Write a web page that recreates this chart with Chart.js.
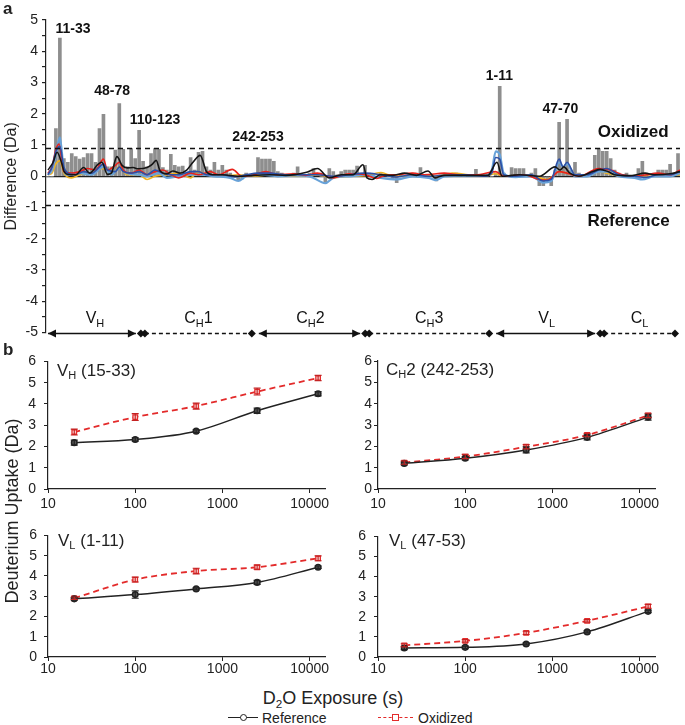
<!DOCTYPE html>
<html>
<head>
<meta charset="utf-8">
<script src="https://cdn.jsdelivr.net/npm/chart.js@4/dist/chart.umd.min.js"></script>
<style>
body { margin: 0; background: #fff; width: 685px; height: 725px; position: relative; overflow: hidden;
       font-family: "Liberation Sans", Arial, sans-serif; color: #222; }
canvas { position: absolute; }
.t { position: absolute; white-space: nowrap; line-height: 1; }
.t sub { font-size: 0.65em; vertical-align: -0.3em; line-height: 0; }
.lg { position: absolute; }
</style>
</head>
<body>
<canvas id="diffChart" style="left:0;top:0" width="685" height="345"></canvas>
<canvas id="vh15Chart" style="left:0;top:345px" width="340" height="175"></canvas>
<canvas id="ch2Chart" style="left:340px;top:345px" width="345" height="175"></canvas>
<canvas id="vl1Chart" style="left:0;top:520px" width="340" height="165"></canvas>
<canvas id="vl47Chart" style="left:340px;top:520px" width="345" height="165"></canvas>

<div class="t" style="left:3px;top:0;font-weight:bold;font-size:17px">a</div>
<div class="t" style="left:3px;top:341px;font-weight:bold;font-size:17px">b</div>
<div class="t" style="left:57px;top:362px;font-size:17px">V<sub>H</sub> (15-33)</div>
<div class="t" style="left:386px;top:361px;font-size:17px">C<sub>H</sub>2 (242-253)</div>
<div class="t" style="left:58px;top:532px;font-size:17px">V<sub>L</sub> (1-11)</div>
<div class="t" style="left:389px;top:532px;font-size:17px">V<sub>L</sub> (47-53)</div>
<div class="t" style="left:333px;top:689px;font-size:18px;transform:translateX(-50%)">D<sub>2</sub>O Exposure (s)</div>
<div class="t" style="left:12px;top:511px;font-size:18px;transform:translate(-50%,-50%) rotate(-90deg)">Deuterium Uptake (Da)</div>

<div class="lg" style="left:228px;top:717px;width:30px;border-top:1.5px solid #222"></div>
<div class="lg" style="left:240px;top:714px;width:5px;height:5px;border:1px solid #222;border-radius:50%;background:#fff"></div>
<div class="t" style="left:262px;top:711px;font-size:14px">Reference</div>
<div class="lg" style="left:378px;top:717px;width:35px;border-top:1.5px dashed #e32b2b"></div>
<div class="lg" style="left:392px;top:714px;width:5px;height:5px;border:1.2px solid #e32b2b;background:#fff"></div>
<div class="t" style="left:418px;top:711px;font-size:14px">Oxidized</div>

<script>
// ---- panel a: difference plot (one slot per peptide) ----
const barValues = [
  0, 0, 1.53, 4.42, 0.57, 0.45, 0.73, 0.63, 0.55, 0.6,
  0.73, 0.73, 0.45, 1.53, 1.98, 0.3, 0.3, 0.84, 2.33, 0.86,
  0.3, 0.89, 0.57, 1.47, 0.48, 0.3, 0.73, 0.89, 0.86, 0.28,
  0.2, 0.7, 0.35, 0.3, 0.33, 0.1, 0.6, 0.2, 0.77, 0.8,
  0.3, 0.2, 0.45, 0.2, 0.35, 0.2, 0.1, 0, -0.12, -0.08,
  0.1, 0.05, 0, 0.6, 0.55, 0.55, 0.55, 0.48, 0.15, 0.1,
  0.05, 0.05, 0.1, 0.3, 0.05, 0, 0.1, 0.25, 0.05, 0,
  -0.2, 0.25, 0.15, 0.05, 0.15, 0.2, 0.2, 0.2, 0.33, 0.1,
  0.35, 0.1, 0.05, 0, 0.1, 0.05, 0, -0.1, -0.2, 0.05,
  0, 0.05, 0.1, 0.1, 0.28, 0.05, 0, 0.05, -0.15, 0.05,
  0, 0.05, 0.05, 0.1, 0.05, 0, 0.05, 0.05, 0.22, 0.05,
  0, 0.05, 0, 0.1, 2.88, 0.1, 0, 0.28, 0.25, 0.25,
  0.25, 0.05, 0.1, 0.25, -0.3, -0.3, -0.1, -0.3, 0.2, 1.73,
  0.3, 1.82, 0.2, 0.45, 0.1, 0.05, 0, 0.1, 0.67, 0.89,
  0.8, 0.8, 0.57, 0.2, 0.1, 0.05, 0.1, 0, 0.05, 0.25,
  0.48, 0.05, 0, 0.1, 0.2, 0.2, 0.2, 0.38, 0.1, 0.73
];

const blackLine = [[0,0.2],[1.3,0.45],[2.3,0.77],[3.5,0.4],[4,0.17],[5,0.06],[7,0.05],[9,0.28],[10.5,0.1],[12.6,0.38],
  [13.6,0.45],[15,0.06],[16,0.1],[17.4,0.63],[18.7,0.35],[20,0.27],[21.5,0.28],[22.7,0.24],[25,0.28],[26.3,0.38],
  [27.3,0.51],[28.3,0.17],[30,0.08],[31.5,0.17],[33.3,0.1],[35,0.2],[36.6,0.45],[38.4,0.67],[40,0.15],[41.6,0.05],
  [44,0.05],[48,0],[52,0.03],[56,0.05],[60,0.03],[65,0.12],[68,0.25],[71,-0.05],[74,0.05],[77,0.05],
  [79.5,0.37],[80.5,-0.05],[81.8,-0.1],[83.8,0.05],[87,0.03],[90,0.1],[93,0.03],[95.9,0.17],[97.7,-0.05],[100,0.03],
  [104,0.03],[108,0.03],[111,0.03],[113.3,0.45],[114.6,0],[117,0.03],[119,0.05],[124,0],[128,0.3],[129.2,0.2],
  [130.2,0.3],[131.7,0.1],[134,0],[137.5,0.15],[139.3,0.22],[141.3,0.15],[143,0.05],[146.9,0.02],[150.7,0.1],[153,0.05],
  [157,0.08],[159.5,0.15]];
const redLine = [[0,0.1],[1,0.3],[2,0.86],[2.8,1.03],[4,0.15],[6,0.1],[8,0.15],[10,0.25],[12,0.2],[14,0.55],
  [15,0.2],[17,0.35],[18,0.45],[19,0.2],[21,0.1],[23,0.2],[25,0.05],[27,0.15],[29,0.2],[31,0.05],
  [33,-0.05],[36,0.1],[38,0.05],[41,0.15],[43,0.05],[46.5,0.22],[49,0],[52,0.05],[55,0.15],[58,0.05],
  [62,0.08],[65,0.03],[68,0.1],[72,-0.05],[76,0.08],[80,0.05],[83,-0.07],[85,0.03],[88,0.05],[92,0.1],
  [95,0.05],[100,0.1],[104,0.05],[108,0.05],[113,0.15],[115,0],[120,0.05],[124,-0.1],[126,-0.12],[129,0.15],
  [131,0.1],[134,0],[139,0.25],[142,0.2],[145,0.05],[148,0],[151,0.05],[154,0.1],[157,0.05],[159.5,0.2]];
const darkBlueLine = [[0,0.05],[1,0.3],[2,0.8],[3,0.95],[4,0.3],[5,0.1],[7,0.05],[9,0.15],[11,0.1],[13,0.3],
  [14,0.4],[15,0.2],[17,0.15],[18,0.3],[19,0.15],[21,0.1],[23,0.15],[25,0.05],[27,0.2],[29,0.1],
  [31,0.05],[33,0.05],[36,0.15],[38,0.15],[40,0.05],[44,0.05],[47,-0.02],[50,0.05],[53,0.1],[56,0.1],
  [60,0.05],[64,0.05],[68,0.05],[72,0],[76,0.05],[80,0.1],[84,0.05],[88,-0.02],[92,0.05],[96,0],
  [100,0.03],[105,0.05],[110,0],[112,0.1],[113,0.6],[114,0.55],[115,0.05],[118,0],[122,0.05],[125,-0.15],
  [127,-0.1],[129,0.55],[130,0.3],[131,0.45],[133,0.05],[136,0.05],[139,0.2],[141,0.25],[144,0.05],[148,0],
  [151,-0.03],[154,0.05],[157,0.05],[159.5,0.15]];
const lightBlueLine = [[0,0.05],[1,0.2],[2,0.7],[3,1.25],[4,0.2],[5,0.05],[8,0.1],[11,0.05],[14,0.3],[16,0.05],
  [18,0.25],[20,0.1],[23,0.05],[25,0],[28,0.1],[30,-0.05],[33,0],[36,0.05],[39,0.05],[42,0],
  [46,-0.05],[48,-0.15],[50,0],[54,0.05],[58,0],[62,0.03],[66,0],[70,-0.22],[72,-0.05],[76,0],
  [80,0.05],[84,-0.05],[88,-0.1],[92,0],[96,-0.05],[98,-0.12],[100,0],[106,0.02],[110,0.02],[112,0.2],
  [113,0.8],[114,0.7],[115,0.1],[118,-0.03],[122,0],[125,-0.2],[127,-0.15],[129,0.45],[130,0.3],[131,0.4],
  [133,0],[136,0],[139,0.15],[141,0.15],[144,0],[148,-0.05],[150,-0.1],[153,0],[157,0],[159.5,0.1]];
const yellowLine = [[0,0.05],[1,0.1],[2,0.4],[3,0.5],[4,0.1],[6,-0.05],[8,0.05],[11,0.1],[14,0.25],[16,0.05],
  [18,0.3],[20,0.05],[23,0.05],[25,-0.1],[27,0],[30,0.05],[33,0.1],[36,-0.05],[38,0.15],[40,0.05],
  [44,0],[48,0.05],[52,0],[56,0.05],[60,0],[64,0],[68,0.05],[72,-0.05],[76,0],[80,0.02],
  [84,0.12],[86,0.05],[90,0],[94,0.05],[98,0],[102,0.1],[106,0.05],[110,0],[113,0.08],[115,0],
  [120,0.02],[124,-0.05],[126,-0.1],[129,0.15],[131,0.1],[133,0.05],[136,0],[139,0.15],[141,0.1],[145,0],
  [150,0],[155,0.02],[159.5,0.05]];

const significanceLimit = 0.92;
const peakLabels = ['11-33', '48-78', '110-123', '242-253', '1-11', '47-70'];
const domainEdges = [0, 23.7, 52.2, 80.3, 112.1, 139.6, 159];
const domainNames = [['V', 'H', ''], ['C', 'H', '1'], ['C', 'H', '2'], ['C', 'H', '3'], ['V', 'L', ''], ['C', 'L', '']];
const domainSolid = [true, false, true, false, true, false];

// ---- panel b: uptake curves ----
const exposureTimes = [20, 100, 500, 2500, 12500];
const xTickValues = [10, 100, 1000, 10000];
const vh15Ref = [2.18, 2.33, 2.72, 3.68, 4.48];
const vh15RefErr = [0.12, 0.08, 0.06, 0.12, 0.1];
const vh15Ox = [2.68, 3.38, 3.9, 4.58, 5.22];
const vh15OxErr = [0.14, 0.16, 0.14, 0.16, 0.12];
const ch2Ref = [1.2, 1.44, 1.83, 2.42, 3.37];
const ch2RefErr = [0.07, 0.08, 0.14, 0.12, 0.14];
const ch2Ox = [1.24, 1.52, 1.98, 2.53, 3.45];
const ch2OxErr = [0.08, 0.1, 0.1, 0.08, 0.1];
const vl1Ref = [2.87, 3.08, 3.36, 3.68, 4.43];
const vl1RefErr = [0.06, 0.18, 0.05, 0.1, 0.06];
const vl1Ox = [2.9, 3.82, 4.24, 4.43, 4.87];
const vl1OxErr = [0.06, 0.12, 0.14, 0.1, 0.12];
const vl47Ref = [0.45, 0.48, 0.65, 1.25, 2.27];
const vl47RefErr = [0.08, 0.06, 0.05, 0.05, 0.06];
const vl47Ox = [0.58, 0.8, 1.2, 1.8, 2.52];
const vl47OxErr = [0.08, 0.06, 0.08, 0.06, 0.1];

Chart.defaults.font.family = '"Liberation Sans", Arial, sans-serif';
Chart.defaults.color = '#222';
Chart.defaults.animation = false;

var toPts = function (pairs) { return pairs.map(function (p) { return { x: p[0], y: p[1] }; }); };

// where the text labels of panel a sit, in data units
var peakLabelAt = [[6.3, 4.7], [16.2, 2.72], [27, 1.79], [53, 1.25], [113.9, 3.2], [129.3, 2.14]];

var diffDecor = {
    id: 'diffDecor',
    afterDraw: function (chart) {
        var ctx = chart.ctx, xs = chart.scales.x, ys = chart.scales.y, area = chart.chartArea;
        ctx.save();
        // dashed threshold lines
        ctx.strokeStyle = '#111';
        ctx.lineWidth = 1.3;
        ctx.setLineDash([5, 4]);
        [significanceLimit, -significanceLimit].forEach(function (v) {
            var y = Math.round(ys.getPixelForValue(v)) + 0.5;
            ctx.beginPath();
            ctx.moveTo(area.left, y);
            ctx.lineTo(area.right, y);
            ctx.stroke();
        });
        ctx.setLineDash([]);

        // peptide labels
        ctx.fillStyle = '#111';
        ctx.textAlign = 'center';
        ctx.textBaseline = 'middle';
        ctx.font = 'bold 14px "Liberation Sans", Arial, sans-serif';
        peakLabels.forEach(function (txt, i) {
            ctx.fillText(txt, xs.getPixelForValue(peakLabelAt[i][0]), ys.getPixelForValue(peakLabelAt[i][1]));
        });
        ctx.font = 'bold 17px "Liberation Sans", Arial, sans-serif';
        ctx.fillText('Oxidized', xs.getPixelForValue(147.7), ys.getPixelForValue(1.4));
        ctx.fillText('Reference', xs.getPixelForValue(146.5), ys.getPixelForValue(-1.44));

        // domain bar along the bottom
        var yb = Math.round(ys.getPixelForValue(-5)) + 0.5;
        var yl = ys.getPixelForValue(-4.55);
        ctx.strokeStyle = '#111';
        ctx.fillStyle = '#111';
        ctx.lineWidth = 1.3;
        var diamond = function (x) {
            ctx.beginPath();
            ctx.moveTo(x - 4, yb); ctx.lineTo(x, yb - 4); ctx.lineTo(x + 4, yb); ctx.lineTo(x, yb + 4);
            ctx.closePath(); ctx.fill();
        };
        var arrow = function (x, dir) {
            ctx.beginPath();
            ctx.moveTo(x, yb); ctx.lineTo(x - dir * 8, yb - 4); ctx.lineTo(x - dir * 8, yb + 4);
            ctx.closePath(); ctx.fill();
        };
        for (var i = 0; i < domainNames.length; i++) {
            var x0 = xs.getPixelForValue(domainEdges[i]), x1 = xs.getPixelForValue(domainEdges[i + 1]);
            if (domainSolid[i]) {
                var a0 = x0 + (i === 0 ? 0 : 4), a1 = x1 - 6;
                ctx.setLineDash([]);
                ctx.beginPath(); ctx.moveTo(a0, yb); ctx.lineTo(a1, yb); ctx.stroke();
                arrow(a0, -1); arrow(a1, 1);
                diamond(x1 - 1);
            } else {
                var d0 = x0 + 3, d1 = x1 - 3;
                ctx.setLineDash([4, 3]);
                ctx.beginPath(); ctx.moveTo(d0, yb); ctx.lineTo(d1, yb); ctx.stroke();
                ctx.setLineDash([]);
                diamond(d0); diamond(d1);
            }
            // label with subscript
            var nm = domainNames[i];
            var big = '16px "Liberation Sans", Arial, sans-serif', small = '11px "Liberation Sans", Arial, sans-serif';
            ctx.font = big; var w1 = ctx.measureText(nm[0]).width, w3 = ctx.measureText(nm[2]).width;
            ctx.font = small; var w2 = ctx.measureText(nm[1]).width;
            var cx = (x0 + x1) / 2 - (w1 + w2 + w3) / 2;
            ctx.textAlign = 'left';
            ctx.font = big; ctx.fillText(nm[0], cx, yl);
            ctx.font = small; ctx.fillText(nm[1], cx + w1, yl + 5);
            ctx.font = big; ctx.fillText(nm[2], cx + w1 + w2, yl);
        }
        ctx.restore();
    }
};

var lineSet = function (label, pairs, color, width) {
    return {
        type: 'line', label: label, data: toPts(pairs), borderColor: color, borderWidth: width,
        pointRadius: 0, cubicInterpolationMode: 'monotone', fill: false
    };
};

new Chart(document.getElementById('diffChart'), {
    type: 'bar',
    data: {
        datasets: [
            lineSet('12 h', blackLine, '#151515', 1.6),
            lineSet('2500 s', darkBlueLine, '#2d4fa6', 1.6),
            lineSet('500 s', redLine, '#e8231c', 1.6),
            lineSet('100 s', lightBlueLine, '#68a2d8', 2.2),
            lineSet('20 s', yellowLine, '#f0b323', 1.6),
            {
                type: 'bar', label: 'Sum', data: barValues.map(function (v, i) { return { x: i, y: v }; }),
                backgroundColor: '#8e8e8e', barThickness: 3
            }
        ]
    },
    options: {
        responsive: false,
        layout: { padding: { left: 0, top: 20, right: 5, bottom: 12 } },
        plugins: { legend: { display: false }, tooltip: { enabled: false } },
        scales: {
            x: { type: 'linear', min: -0.5, max: 159.5, offset: false, display: false },
            y: {
                min: -5, max: 5,
                ticks: {
                    stepSize: 0.5, maxTicksLimit: 50, autoSkip: false, padding: 4,
                    font: { size: 14 }, color: '#222',
                    callback: function (v) { return Number.isInteger(v) ? v : ''; }
                },
                grid: {
                    color: function (c) { return c.tick && c.tick.value === 0 ? '#222' : 'rgba(0,0,0,0)'; },
                    tickColor: '#222', tickLength: 4, lineWidth: 1.2
                },
                border: { color: '#222', width: 1.2 },
                title: { display: true, text: 'Difference (Da)', font: { size: 16 }, color: '#222', padding: { top: 2, bottom: 0 } },
                afterFit: function (s) { s.width = 46; }
            }
        }
    },
    plugins: [diffDecor]
});

var errorBars = {
    id: 'errorBars',
    afterDatasetsDraw: function (chart) {
        var ctx = chart.ctx, ys = chart.scales.y;
        chart.data.datasets.forEach(function (ds, i) {
            var meta = chart.getDatasetMeta(i);
            ctx.save();
            ctx.strokeStyle = ds.errColor;
            ctx.lineWidth = 1.2;
            meta.data.forEach(function (pt, j) {
                var v = ds.data[j].y, e = ds.errors[j];
                var yt = ys.getPixelForValue(v + e), yb = ys.getPixelForValue(v - e);
                ctx.beginPath();
                ctx.moveTo(pt.x, yt); ctx.lineTo(pt.x, yb);
                ctx.moveTo(pt.x - 3.5, yt); ctx.lineTo(pt.x + 3.5, yt);
                ctx.moveTo(pt.x - 3.5, yb); ctx.lineTo(pt.x + 3.5, yb);
                ctx.stroke();
            });
            ctx.restore();
        });
    }
};

function uptakeChart(id, ref, refErr, ox, oxErr, box) {
    var pts = function (vals) { return vals.map(function (v, i) { return { x: exposureTimes[i], y: v }; }); };
    return new Chart(document.getElementById(id), {
        type: 'line',
        data: {
            datasets: [
                {
                    label: 'Reference', data: pts(ref), errors: refErr, errColor: '#222',
                    borderColor: '#222', borderWidth: 1.5, pointStyle: 'circle', pointRadius: 2.8,
                    pointBackgroundColor: '#555', pointBorderColor: '#222', cubicInterpolationMode: 'monotone'
                },
                {
                    label: 'Oxidized', data: pts(ox), errors: oxErr, errColor: '#c42222',
                    borderColor: '#e32b2b', borderWidth: 1.8, borderDash: [6, 4], pointStyle: 'rect', pointRadius: 3.2,
                    pointBackgroundColor: '#fbe3e3', pointBorderColor: '#e32b2b', pointBorderWidth: 1.3,
                    cubicInterpolationMode: 'monotone'
                }
            ]
        },
        options: {
            responsive: false,
            layout: { padding: { left: 0, top: box.top, right: box.right, bottom: box.bottom } },
            plugins: { legend: { display: false }, tooltip: { enabled: false } },
            scales: {
                x: {
                    type: 'logarithmic', min: 10, max: 15000,
                    afterBuildTicks: function (s) { s.ticks = xTickValues.map(function (v) { return { value: v }; }); },
                    ticks: {
                        autoSkip: false, maxRotation: 0, padding: box.xPad, font: { size: 14 }, color: '#222',
                        callback: function (v) { return String(v); }
                    },
                    grid: { drawOnChartArea: false, tickLength: 4, tickColor: '#222' },
                    border: { color: '#222', width: 1.2 },
                    afterFit: function (s) { s.height = 24; }
                },
                y: {
                    min: 0, max: 6,
                    ticks: { stepSize: 1, padding: box.tickPad, font: { size: 14 }, color: '#222' },
                    grid: { drawOnChartArea: false, tickLength: 4, tickColor: '#222' },
                    border: { color: '#222', width: 1.2 },
                    afterFit: function (s) { s.width = box.yWidth; }
                }
            }
        },
        plugins: [errorBars]
    });
}

uptakeChart('vh15Chart', vh15Ref, vh15RefErr, vh15Ox, vh15OxErr, { top: 16, right: 15, bottom: 7, yWidth: 48, tickPad: 8, xPad: 3 });
uptakeChart('ch2Chart', ch2Ref, ch2RefErr, ch2Ox, ch2OxErr, { top: 16, right: 30, bottom: 7, yWidth: 38, tickPad: 2, xPad: 3 });
uptakeChart('vl1Chart', vl1Ref, vl1RefErr, vl1Ox, vl1OxErr, { top: 10, right: 15, bottom: 4, yWidth: 48, tickPad: 7, xPad: 0 });
uptakeChart('vl47Chart', vl47Ref, vl47RefErr, vl47Ox, vl47OxErr, { top: 10, right: 30, bottom: 4, yWidth: 38, tickPad: 8, xPad: 0 });
</script>
</body>
</html>
